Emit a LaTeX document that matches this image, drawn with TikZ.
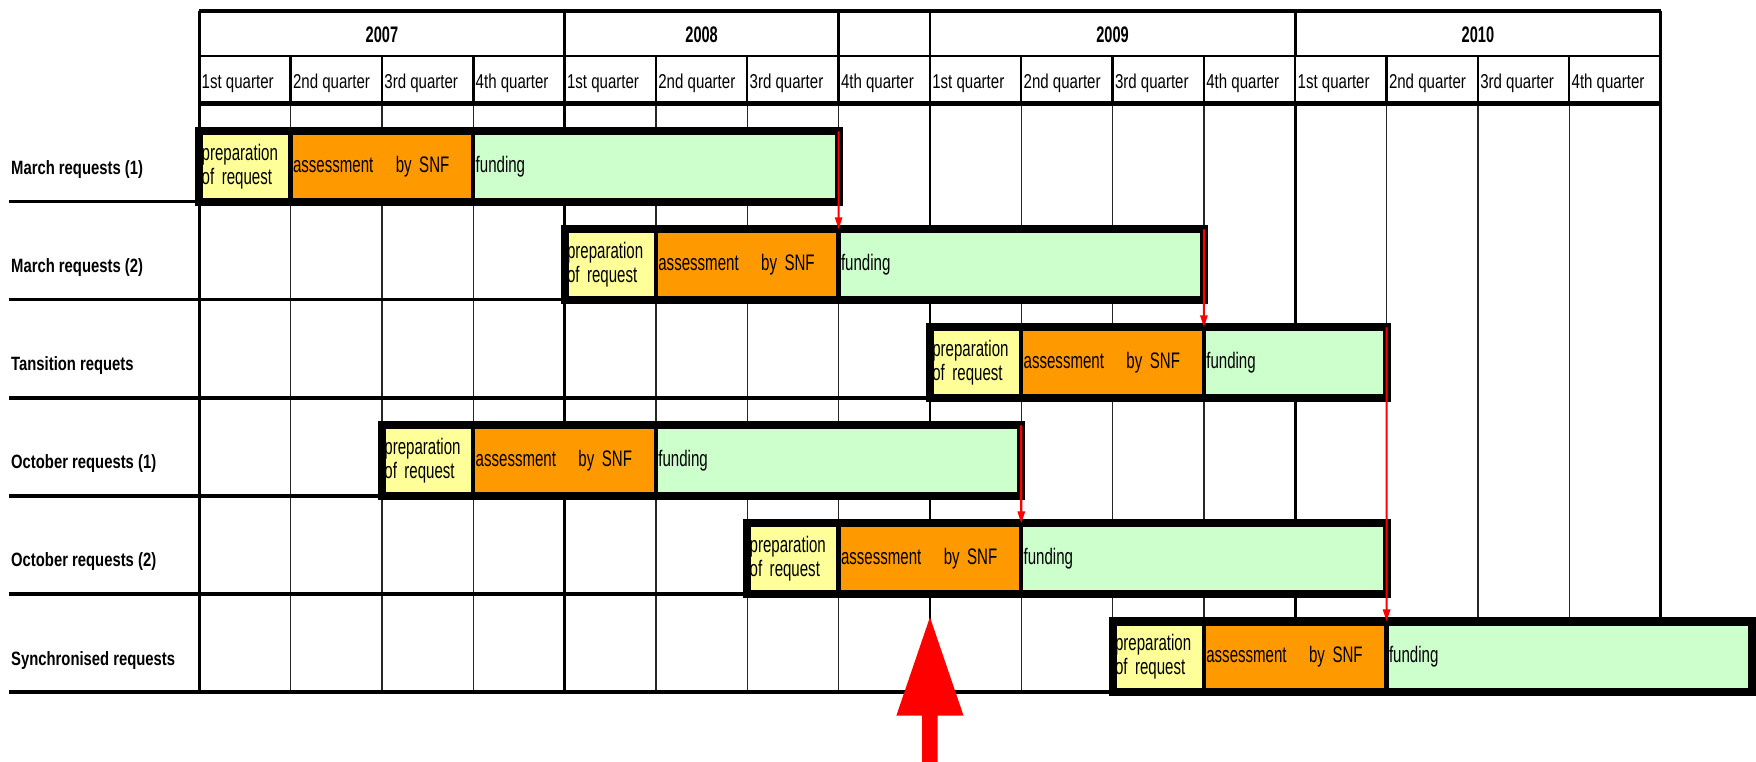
\documentclass[tikz,border=0pt]{standalone}
\usepackage{fontspec}
\setmainfont{Liberation Sans}
\newfontfamily\barfont{Liberation Sans}[FakeStretch=0.67]
\newfontfamily\quarterfont{Liberation Sans}[FakeStretch=0.75]
\newfontfamily\rowfont{Liberation Sans}[FakeStretch=0.77]
\newfontfamily\yearfont{Liberation Sans}[FakeStretch=0.65]
\newcommand\barspacing{\spaceskip=2.4pt plus 1pt\relax}
\usetikzlibrary{positioning,arrows.meta}
\definecolor{prepcol}{HTML}{FFFF99}
\definecolor{assesscol}{HTML}{FF9900}
\definecolor{fundcol}{HTML}{CCFFCC}
\tikzset{every node/.style={outer sep=0pt},
  seg/.style={draw, line width=2.7pt, minimum height=1.545cm, inner xsep=1.5pt, inner ysep=0pt,
              align=left, font=\barfont\fontsize{14pt}{15pt}\selectfont\barspacing},
  prep/.style={seg, fill=prepcol, text width=1.8946cm, anchor=south west},
  assess/.style={seg, fill=assesscol, text width=3.8946cm},
  fund/.style={seg, fill=fundcol, text width=#1},
  barframe/.style={line width=5pt},
  rowline/.style={line width=2pt},
  gridline/.style={line width=0.8pt, black!85},
  yearline/.style={line width=1.6pt},
  yeartext/.style={font=\yearfont\bfseries\fontsize{14pt}{16pt}\selectfont},
  quartertext/.style={anchor=west, inner xsep=1.5pt, font=\quarterfont\fontsize{12.5pt}{14pt}\selectfont},
  rowlabel/.style={anchor=west, inner sep=0pt, font=\rowfont\bfseries\fontsize{12pt}{14pt}\selectfont},
  redlink/.style={red, line width=1.3pt, -{Triangle[width=4.5pt,length=7.5pt]}}}

\begin{document}
\begin{tikzpicture}
  \useasboundingbox (-4.365,0) rectangle (34.09,16.675);
  % header
  \draw[line width=2.7pt] (0,16.43) -- (32,16.43);
  \draw[line width=1.2pt] (0,15.45) -- (32,15.45);
  \foreach \x in {0,8,14,16,24,32} \draw[yearline] (\x,16.43) -- (\x,15.45);
  \foreach \x in {0,2,...,32} \draw[line width=1.5pt] (\x,15.45) -- (\x,14.4);
  \foreach \x in {2,4,6,10,12,14,18,20,22,26,28,30} \draw[gridline] (\x,14.4) -- (\x,1.52);
  \foreach \x in {0,8,16,24,32} \draw[yearline] (\x,14.4) -- (\x,1.52);
  \draw[line width=3pt] (0,14.4) -- (32,14.4);
  \node[yeartext] (y2007) at (4,15.92) {2007};
  \node[yeartext] (y2008) at (11,15.92) {2008};
  \node[yeartext] (y2009) at (20,15.92) {2009};
  \node[yeartext] (y2010) at (28,15.92) {2010};
  \foreach \yr in {0,1,2,3}
    \foreach \q [count=\n from 0] in {1st,2nd,3rd,4th}
      \node[quartertext] (q\yr\n) at ({8*\yr+2*\n},14.85) {\q\ quarter};

  % row labels
  \node[rowlabel] (lab1) at (-4.12,12.96) {March requests (1)};
  \node[rowlabel] (lab2) at (-4.12,10.81) {March requests (2)};
  \node[rowlabel] (lab3) at (-4.12,8.66) {Tansition requets};
  \node[rowlabel] (lab4) at (-4.12,6.52) {October requests (1)};
  \node[rowlabel] (lab5) at (-4.12,4.37) {October requests (2)};
  \node[rowlabel] (lab6) at (-4.12,2.22) {Synchronised requests};

  % bars
  \node[prep] (p1) at (0,12.255) {preparation\\of request};
  \node[assess, right=0pt of p1] (a1) {assessment\ \ \ by SNF};
  \node[fund=7.8946cm, right=0pt of a1] (f1) {funding};

  \node[prep] (p2) at (8,10.108) {preparation\\of request};
  \node[assess, right=0pt of p2] (a2) {assessment\ \ \ by SNF};
  \node[fund=7.8946cm, right=0pt of a2] (f2) {funding};

  \node[prep] (p3) at (16,7.961) {preparation\\of request};
  \node[assess, right=0pt of p3] (a3) {assessment\ \ \ by SNF};
  \node[fund=3.8946cm, right=0pt of a3] (f3) {funding};

  \node[prep] (p4) at (4,5.814) {preparation\\of request};
  \node[assess, right=0pt of p4] (a4) {assessment\ \ \ by SNF};
  \node[fund=7.8946cm, right=0pt of a4] (f4) {funding};

  \node[prep] (p5) at (12,3.667) {preparation\\of request};
  \node[assess, right=0pt of p5] (a5) {assessment\ \ \ by SNF};
  \node[fund=7.8946cm, right=0pt of a5] (f5) {funding};

  \node[prep] (p6) at (20,1.52) {preparation\\of request};
  \node[assess, right=0pt of p6] (a6) {assessment\ \ \ by SNF};
  \node[fund=7.8946cm, right=0pt of a6] (f6) {funding};

  \foreach \r in {1,...,6} {
    \draw[barframe] (p\r.south west) rectangle (f\r.north east);
    \coordinate (st\r) at (-4.17,0 |- p\r.south west);
  }
  \foreach \r in {1,...,5} \draw[rowline] (st\r) -- (p\r.south west);
  \draw[rowline, line width=2.6pt] (st6) -- (p6.south west);

  % links
  \draw[redlink] (f1.north east) -- (f2.north west);
  \draw[redlink] (f2.north east) -- (f3.north west);
  \draw[redlink] (f3.north east) -- (f6.north west);
  \draw[redlink] (f4.north east) -- (f5.north west);

  \coordinate (now) at (16,3.16);
  \fill[red] (now) -- ++(0.735,-2.155) -- ++(-0.565,0) -- ++(0,-1.2) -- ++(-0.34,0)
    -- ++(0,1.2) -- ++(-0.565,0) -- cycle;
\end{tikzpicture}
\end{document}
